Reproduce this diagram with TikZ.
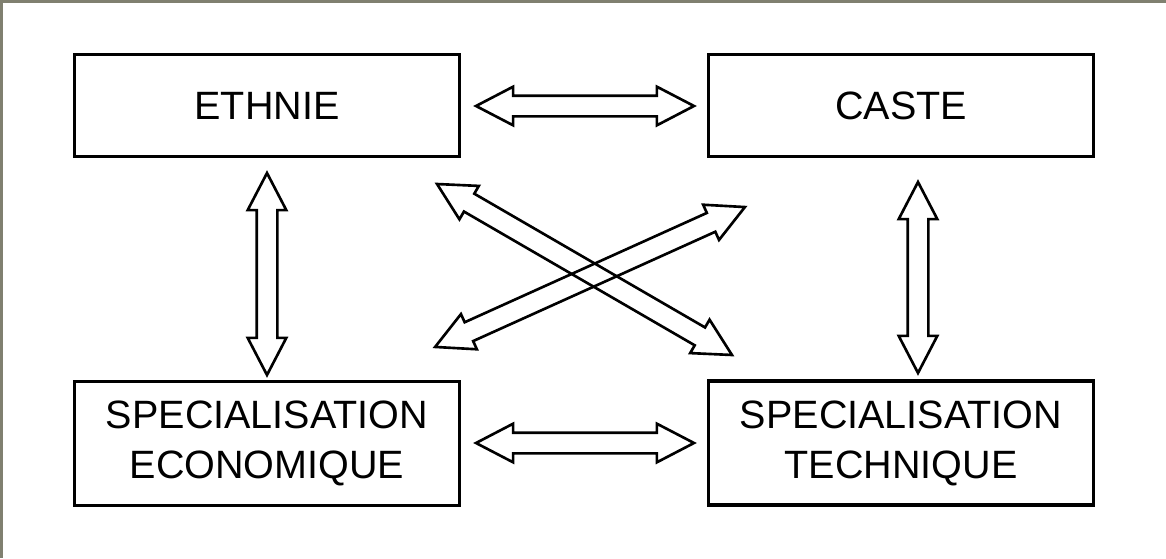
\documentclass[tikz,border=0pt]{standalone}
\usepackage{fontspec}
\setmainfont{Liberation Sans}
\usetikzlibrary{shapes.arrows}

\begin{document}
\begin{tikzpicture}[x=0.02cm,y=-0.02cm,
  box/.style={rectangle,draw,line width=1.8pt,minimum width=7.7cm,minimum height=2.04cm,align=center,font=\fontsize{22.5}{28.5}\selectfont},
  tallbox/.style={box,minimum height=2.48cm},
  dblarrow/.style={double arrow,draw,line width=1.5pt,inner sep=0.18cm,minimum width=0.72cm,double arrow head extend=0.18cm,double arrow tip angle=55,minimum height=#1}]

  \useasboundingbox (0,0) rectangle (1166,558);
  % grey frame
  \fill[fill={rgb,255:red,128;green,128;blue,112}] (0,0) rectangle (1166,3);
  \fill[fill={rgb,255:red,128;green,128;blue,112}] (0,0) rectangle (3,558);

  \node(ethnie)[box]     at (267,105.5) {ETHNIE};
  \node(caste) [box]     at (901,105.5) {CASTE};
  \node(econ)  [tallbox] at (267,443.5) {SPECIALISATION\\ECONOMIQUE};
  \node(tech)  [tallbox] at (901,443)   {SPECIALISATION\\TECHNIQUE};

  \begin{scope}
    \node(ethcas)[dblarrow=4.36cm]              at (585,106)   {};
    \node(ecotec)[dblarrow=4.36cm]              at (585,443)   {};
    \node(etheco)[dblarrow=4.04cm,rotate=90]    at (267,274)   {};
    \node(castec)[dblarrow=3.82cm,rotate=90]    at (918,277.5) {};
    % crossing arrows
    \node(ethtec)[dblarrow=6.82cm,rotate=-30.1] at (584.5,269.5) {};
    \node(ecocas)[dblarrow=6.8cm,rotate=24.3]   at (590,277)   {};
  \end{scope}
\end{tikzpicture}
\end{document}
